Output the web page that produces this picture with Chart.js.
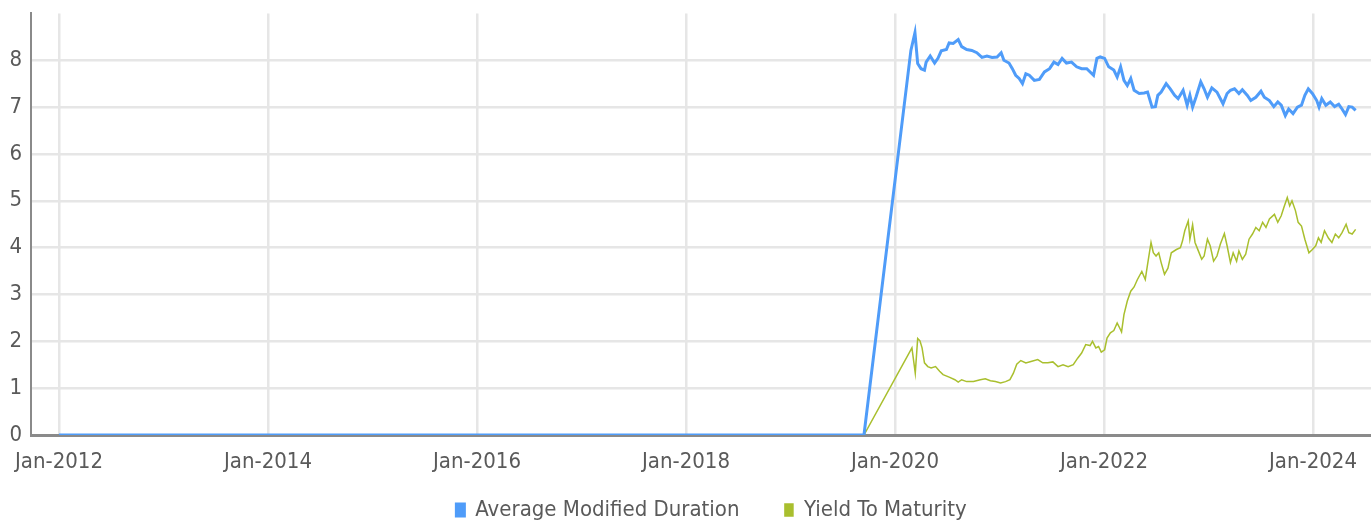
<!DOCTYPE html>
<html>
<head>
<meta charset="utf-8">
<script src="https://cdn.jsdelivr.net/npm/chart.js@4.4.1/dist/chart.umd.min.js"></script>
<style>
  html, body { margin: 0; padding: 0; background: #fff; }
  #wrap { width: 1371px; height: 522px; }
</style>
</head>
<body>
<div id="wrap"><canvas id="chart"></canvas></div>
<script>
// dates as decimal years
const durationDates = [2012.0, 2013.0, 2014.0, 2015.0, 2016.0, 2017.0, 2018.0, 2019.0, 2019.703,
  2020.152, 2020.191, 2020.217, 2020.249, 2020.282, 2020.298, 2020.337, 2020.379, 2020.411, 2020.443,
  2020.492, 2020.518, 2020.557, 2020.605, 2020.638, 2020.686, 2020.735, 2020.783, 2020.832, 2020.880,
  2020.929, 2020.977, 2021.016, 2021.042, 2021.091, 2021.123, 2021.155, 2021.188, 2021.220, 2021.252,
  2021.285, 2021.333, 2021.382, 2021.430, 2021.479, 2021.521, 2021.560, 2021.599, 2021.641, 2021.689,
  2021.738, 2021.786, 2021.835, 2021.900, 2021.932, 2021.964, 2022.006, 2022.045, 2022.094, 2022.126,
  2022.159, 2022.191, 2022.223, 2022.256, 2022.288, 2022.337, 2022.385, 2022.417, 2022.460, 2022.492,
  2022.515, 2022.547, 2022.595, 2022.634, 2022.676, 2022.709, 2022.757, 2022.796, 2022.822, 2022.848,
  2022.880, 2022.926, 2022.958, 2022.990, 2023.032, 2023.081, 2023.139, 2023.178, 2023.210, 2023.249,
  2023.291, 2023.324, 2023.372, 2023.405, 2023.453, 2023.502, 2023.534, 2023.583, 2023.625, 2023.663,
  2023.696, 2023.735, 2023.767, 2023.809, 2023.851, 2023.890, 2023.922, 2023.955, 2023.994, 2024.036,
  2024.058, 2024.084, 2024.123, 2024.165, 2024.207, 2024.246, 2024.278, 2024.311, 2024.343, 2024.375,
  2024.408];
const durationValues = [0, 0, 0, 0, 0, 0, 0, 0, 0,
  8.21, 8.59, 7.93, 7.82, 7.79, 7.96, 8.09, 7.94, 8.04, 8.20,
  8.23, 8.37, 8.36, 8.44, 8.29, 8.23, 8.21, 8.16, 8.06, 8.09,
  8.06, 8.07, 8.16, 8.00, 7.94, 7.82, 7.68, 7.61, 7.50, 7.71,
  7.68, 7.57, 7.59, 7.75, 7.82, 7.96, 7.91, 8.04, 7.94, 7.96,
  7.86, 7.82, 7.82, 7.68, 8.04, 8.07, 8.04, 7.86, 7.79, 7.64,
  7.86, 7.57, 7.46, 7.61, 7.36, 7.29, 7.30, 7.32, 7.00, 7.01,
  7.25, 7.32, 7.50, 7.39, 7.25, 7.18, 7.36, 7.04, 7.25, 7.00,
  7.21, 7.54, 7.39, 7.21, 7.41, 7.32, 7.07, 7.29, 7.36, 7.39,
  7.29, 7.37, 7.25, 7.14, 7.21, 7.34, 7.21, 7.14, 7.01, 7.11,
  7.04, 6.82, 6.96, 6.86, 7.00, 7.04, 7.25, 7.39, 7.29, 7.14,
  7.00, 7.18, 7.04, 7.11, 7.01, 7.06, 6.96, 6.84, 7.01, 7.00,
  6.93];

const ytmDates = [2012.0, 2013.0, 2014.0, 2015.0, 2016.0, 2017.0, 2018.0, 2019.0, 2019.703,
  2020.162, 2020.194, 2020.217, 2020.239, 2020.259, 2020.282, 2020.314, 2020.346, 2020.388, 2020.427,
  2020.460, 2020.524, 2020.573, 2020.605, 2020.638, 2020.686, 2020.751, 2020.816, 2020.864, 2020.913,
  2020.961, 2021.010, 2021.058, 2021.100, 2021.133, 2021.165, 2021.204, 2021.252, 2021.301, 2021.366,
  2021.414, 2021.463, 2021.511, 2021.560, 2021.608, 2021.657, 2021.706, 2021.748, 2021.786, 2021.825,
  2021.867, 2021.890, 2021.922, 2021.948, 2021.974, 2022.006, 2022.029, 2022.061, 2022.094, 2022.126,
  2022.149, 2022.168, 2022.191, 2022.223, 2022.256, 2022.288, 2022.320, 2022.362, 2022.395, 2022.417,
  2022.450, 2022.472, 2022.498, 2022.524, 2022.547, 2022.579, 2022.612, 2022.644, 2022.693, 2022.731,
  2022.751, 2022.773, 2022.806, 2022.822, 2022.848, 2022.871, 2022.903, 2022.935, 2022.958, 2022.990,
  2023.016, 2023.049, 2023.081, 2023.113, 2023.152, 2023.178, 2023.210, 2023.236, 2023.269, 2023.291,
  2023.324, 2023.356, 2023.388, 2023.421, 2023.453, 2023.485, 2023.518, 2023.550, 2023.583, 2023.631,
  2023.663, 2023.696, 2023.722, 2023.754, 2023.777, 2023.799, 2023.832, 2023.858, 2023.890, 2023.922,
  2023.961, 2023.994, 2024.026, 2024.052, 2024.078, 2024.110, 2024.149, 2024.181, 2024.214, 2024.246,
  2024.278, 2024.317, 2024.343, 2024.375, 2024.408];
const ytmValues = [0, 0, 0, 0, 0, 0, 0, 0, 0,
  1.86, 1.32, 2.06, 2.01, 1.86, 1.54, 1.46, 1.43, 1.46, 1.36,
  1.29, 1.23, 1.18, 1.13, 1.18, 1.14, 1.14, 1.18, 1.20, 1.16,
  1.14, 1.11, 1.14, 1.18, 1.32, 1.51, 1.59, 1.54, 1.57, 1.61,
  1.54, 1.54, 1.56, 1.46, 1.50, 1.46, 1.50, 1.64, 1.75, 1.93,
  1.91, 2.00, 1.86, 1.89, 1.77, 1.82, 2.07, 2.18, 2.23, 2.39,
  2.29, 2.20, 2.57, 2.86, 3.07, 3.16, 3.32, 3.49, 3.32, 3.64,
  4.11, 3.89, 3.82, 3.89, 3.68, 3.43, 3.56, 3.89, 3.96, 4.00,
  4.14, 4.36, 4.57, 4.18, 4.49, 4.11, 3.93, 3.75, 3.82, 4.18,
  4.04, 3.71, 3.82, 4.07, 4.30, 4.04, 3.68, 3.89, 3.71, 3.93,
  3.75, 3.86, 4.18, 4.29, 4.43, 4.36, 4.54, 4.43, 4.61, 4.71,
  4.54, 4.68, 4.86, 5.07, 4.89, 5.00, 4.79, 4.54, 4.46, 4.18,
  3.89, 3.96, 4.04, 4.21, 4.11, 4.36, 4.20, 4.11, 4.29, 4.21,
  4.32, 4.50, 4.32, 4.29, 4.39];

const seriesNames = ['Average Modified Duration', 'Yield To Maturity'];
const xTickYears = [2012, 2014, 2016, 2018, 2020, 2022, 2024];
const yTickValues = [0, 1, 2, 3, 4, 5, 6, 7, 8];

const FONT = "'Liberation Sans Narrow', 'DejaVu Sans Condensed', sans-serif";
const TEXT_COLOR = '#5a5a5a';

function toPoints(xs, ys) {
  return xs.map((x, i) => ({ x: x, y: ys[i] }));
}

// nudge the legend a little lower and to the right, like the original
const legendShift = {
  id: 'legendShift',
  afterLayout(chart) {
    const lg = chart.legend;
    if (!lg) return;
    const dx = 26, dy = 9;
    lg.left += dx; lg.right += dx;
    lg.top += dy; lg.bottom += dy;
    (lg.legendHitBoxes || []).forEach(b => { b.left += dx; b.top += dy; });
  }
};

new Chart(document.getElementById('chart'), {
  type: 'line',
  data: {
    datasets: [
      {
        label: seriesNames[0],
        data: toPoints(durationDates, durationValues),
        borderColor: '#4f9cf9',
        backgroundColor: '#4f9cf9',
        borderWidth: 3,
        pointRadius: 0,
        tension: 0
      },
      {
        label: seriesNames[1],
        data: toPoints(ytmDates, ytmValues),
        borderColor: '#a9bf2e',
        backgroundColor: '#a9bf2e',
        borderWidth: 1.5,
        pointRadius: 0,
        tension: 0
      }
    ]
  },
  plugins: [legendShift],
  options: {
    responsive: true,
    maintainAspectRatio: false,
    animation: false,
    layout: { padding: { top: 13, right: 0, left: 0, bottom: 0 } },
    plugins: {
      tooltip: { enabled: false },
      legend: {
        position: 'bottom',
        labels: {
          font: { family: FONT, size: 22 },
          color: TEXT_COLOR,
          boxWidth: 8,
          boxHeight: 12,
          padding: 14,
          generateLabels: (chart) => {
            const items = Chart.defaults.plugins.legend.labels.generateLabels(chart);
            // wider gap after the first entry
            items[0].text = items[0].text + '     ';
            return items;
          }
        }
      }
    },
    scales: {
      x: {
        type: 'linear',
        min: 2011.732,
        max: 2024.555,
        afterBuildTicks: (scale) => {
          scale.ticks = xTickYears.map(v => ({ value: v }));
        },
        afterFit: (scale) => { scale.height = 41; },
        ticks: {
          font: { family: FONT, size: 22 },
          color: TEXT_COLOR,
          padding: 14,
          maxRotation: 0,
          autoSkip: false,
          callback: (v) => 'Jan-' + v
        },
        grid: { color: '#e6e6e6', lineWidth: 2.5, drawTicks: false },
        border: { color: '#8a8a8a', width: 3 }
      },
      y: {
        min: 0,
        max: 9,
        afterBuildTicks: (scale) => {
          scale.ticks = yTickValues.map(v => ({ value: v }));
        },
        afterFit: (scale) => { scale.width = 31; },
        ticks: {
          font: { family: FONT, size: 22, lineHeight: 0.4 },
          color: TEXT_COLOR,
          padding: 9
        },
        grid: { color: '#e6e6e6', lineWidth: 2.5, drawTicks: false },
        border: { color: '#8a8a8a', width: 2 }
      }
    }
  }
});
</script>
</body>
</html>
